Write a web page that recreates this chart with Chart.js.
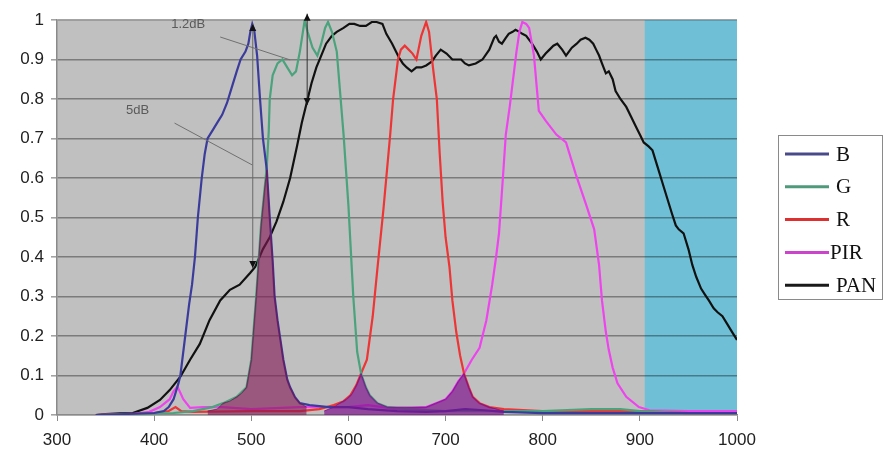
<!DOCTYPE html>
<html><head><meta charset="utf-8">
<script src="https://cdn.jsdelivr.net/npm/chart.js@4.4.1/dist/chart.umd.min.js"></script>
<style>html,body{margin:0;padding:0;background:#fff;}#wrap{position:relative;width:884px;height:454px;}</style>
</head><body><div id="wrap"><canvas id="c" width="884" height="454"></canvas></div>
<script>
// ---- data (wavelength nm, relative response) ----
const seriesNames = ['B','G','R','PIR','PAN'];
const xTickLabels = ['300','400','500','600','700','800','900','1000'];
const yTickLabels = ['0','0.1','0.2','0.3','0.4','0.5','0.6','0.7','0.8','0.9','1'];

const bX = [340,400,410,415,420,425,427,432,436,439,442,445,449,452,455,460,465,470,475,480,485,489,494,497,499,501,503,506,509,512,516,519,522,524,527,530,533,537,540,545,550,560,580,600,620,650,680,700,720,740,760,800,850,900,950,1000];
const bY = [0,0.005,0.01,0.02,0.04,0.08,0.1,0.2,0.28,0.33,0.4,0.5,0.6,0.66,0.7,0.72,0.74,0.76,0.79,0.83,0.87,0.9,0.92,0.94,0.97,0.99,0.975,0.91,0.8,0.7,0.62,0.5,0.39,0.3,0.24,0.19,0.14,0.09,0.07,0.045,0.03,0.025,0.02,0.02,0.015,0.01,0.008,0.01,0.015,0.012,0.008,0.005,0.005,0.005,0.005,0.005];

const gX = [340,420,440,460,471,485,495,500,505,510,514,516,518,519,522,527,532,537,542,546,550,555,558,563,568,572,576,579,583,588,591,595,600,605,609,613,618,622,630,640,660,700,750,800,850,880,900,950,1000];
const gY = [0,0.005,0.01,0.02,0.03,0.046,0.07,0.14,0.3,0.48,0.58,0.63,0.72,0.8,0.86,0.89,0.9,0.88,0.86,0.87,0.92,1.0,0.97,0.93,0.91,0.94,0.98,0.995,0.97,0.92,0.83,0.71,0.53,0.3,0.16,0.105,0.07,0.05,0.03,0.02,0.015,0.01,0.01,0.01,0.015,0.015,0.01,0.005,0.005];

const rX = [340,400,415,422,428,440,500,550,570,585,595,602,608,613,619,625,630,636,643,646,651,654,658,662,666,670,675,680,683,687,691,694,697,700,704,707,711,715,719,724,728,735,745,760,800,850,900,950,1000];
const rY = [0,0.005,0.01,0.02,0.01,0.008,0.01,0.01,0.015,0.025,0.035,0.05,0.075,0.105,0.14,0.25,0.375,0.52,0.71,0.8,0.9,0.925,0.935,0.925,0.915,0.9,0.96,0.995,0.97,0.88,0.8,0.66,0.54,0.45,0.375,0.29,0.21,0.15,0.105,0.07,0.046,0.03,0.02,0.015,0.01,0.01,0.01,0.005,0.005];

const pirX = [340,380,395,406,416,420,424,430,437,450,470,500,550,600,620,650,680,690,700,707,713,719,727,735,742,748,752,755,759,762,766,769,773,776,779,783,786,791,796,803,814,824,834,845,853,858,861,865,868,872,877,886,899,910,950,1000];
const pirY = [0,0.003,0.008,0.02,0.04,0.06,0.072,0.04,0.018,0.02,0.02,0.015,0.02,0.02,0.025,0.015,0.02,0.03,0.04,0.06,0.085,0.105,0.14,0.17,0.24,0.33,0.4,0.46,0.6,0.71,0.78,0.84,0.92,0.97,0.995,0.99,0.98,0.91,0.77,0.745,0.71,0.69,0.61,0.53,0.47,0.38,0.29,0.21,0.165,0.12,0.08,0.046,0.02,0.012,0.01,0.01];

const panX = [340,350,365,378,393,406,416,427,437,447,457,468,478,488,499,504,512,519,526,533,540,547,552,557,562,567,572,577,583,588,595,601,606,612,618,624,629,635,639,645,652,656,660,665,670,675,680,686,690,695,701,707,712,716,720,724,731,738,745,750,752,755,758,762,765,769,772,776,779,783,789,794,798,803,807,811,815,820,824,827,830,835,839,844,848,852,855,858,861,865,868,872,875,880,886,891,896,900,904,909,913,918,923,928,933,937,940,945,950,954,958,963,967,971,976,980,985,990,995,1000];
const panY = [0,0.002,0.004,0.005,0.018,0.038,0.063,0.097,0.14,0.18,0.24,0.29,0.317,0.33,0.36,0.375,0.42,0.45,0.49,0.54,0.6,0.68,0.74,0.79,0.84,0.88,0.91,0.94,0.96,0.97,0.98,0.99,0.99,0.985,0.985,0.995,0.995,0.99,0.965,0.94,0.905,0.89,0.88,0.87,0.88,0.88,0.885,0.895,0.91,0.925,0.915,0.9,0.9,0.9,0.89,0.885,0.89,0.9,0.925,0.955,0.96,0.945,0.94,0.955,0.965,0.97,0.975,0.97,0.965,0.96,0.94,0.92,0.9,0.915,0.925,0.935,0.94,0.925,0.91,0.92,0.93,0.94,0.95,0.955,0.95,0.94,0.925,0.91,0.89,0.865,0.87,0.85,0.82,0.8,0.78,0.755,0.73,0.71,0.69,0.68,0.67,0.63,0.59,0.55,0.51,0.48,0.47,0.46,0.42,0.38,0.35,0.32,0.305,0.29,0.27,0.26,0.25,0.23,0.21,0.19];

// overlap (shaded) areas
const shadeBGX = [455,465,471,478,485,490,495,500,505,510,514,516,519,522,524,527,530,533,537,540,545,550,557];
const shadeBGY = [0.01,0.015,0.03,0.035,0.046,0.055,0.07,0.14,0.3,0.48,0.58,0.62,0.5,0.39,0.3,0.24,0.19,0.14,0.09,0.07,0.045,0.03,0.02];
const shadeRX = [575,585,591,598,604,609,613,618,622,630,640,660,680,690,700,707,713,719,724,728,735,745,760];
const shadeRY = [0.01,0.02,0.03,0.04,0.055,0.08,0.105,0.07,0.05,0.03,0.02,0.02,0.02,0.03,0.04,0.06,0.085,0.105,0.07,0.046,0.03,0.02,0.01];

// near-IR band (highlighted)
const bandRange = [905, 1000];

// annotations
const annTexts = ['1.2dB','5dB'];
const annTextX = [435, 383];
const annTextY = [0.99, 0.772];
const leadX1 = [468, 421], leadY1 = [0.957, 0.739];
const leadX2 = [540, 501], leadY2 = [0.899, 0.633];
const arrowX = [501, 557];
const arrowTop = [0.99, 1.016];
const arrowBottom = [0.372, 0.785];

const lineColors = ['#3b3b9c','#4aa37c','#ee3535','#ee44ee','#111111'];
const legendColors = ['#4a4a8a','#4e9a7a','#dd3030','#cc44cc','#1a1a1a'];

function pts(xs, ys){ return xs.map((x,i)=>({x:x, y:ys[i]})); }

const seriesData = [pts(bX,bY), pts(gX,gY), pts(rX,rY), pts(pirX,pirY), pts(panX,panY)];

const datasets = seriesNames.map((n,i)=>({
  label:n, data:seriesData[i], borderColor:lineColors[i], borderWidth:2.2,
  pointRadius:0, tension:0, fill:false, order:1
}));
datasets.push({label:'overlapBG', data:pts(shadeBGX,shadeBGY), borderColor:'rgba(110,20,80,0.7)', borderWidth:1,
  backgroundColor:'rgba(130,25,85,0.62)', fill:'origin', pointRadius:0, tension:0, order:0});
datasets.push({label:'overlapR', data:pts(shadeRX,shadeRY), borderColor:'rgba(120,20,140,0.8)', borderWidth:1,
  backgroundColor:'rgba(125,15,140,0.68)', fill:'origin', pointRadius:0, tension:0, order:0});

const bgPlugin = {
  id:'bg',
  beforeDraw(chart){
    const {ctx, chartArea:a, scales:{x}} = chart;
    ctx.save();
    ctx.fillStyle = '#ffffff';
    ctx.fillRect(0,0,chart.width,chart.height);
    ctx.fillStyle = '#c0c0c0';
    ctx.fillRect(a.left, a.top, a.right-a.left, a.bottom-a.top);
    const x0 = x.getPixelForValue(bandRange[0]), x1 = x.getPixelForValue(bandRange[1]);
    ctx.fillStyle = '#6fc0d6';
    ctx.fillRect(x0, a.top, x1-x0, a.bottom-a.top);
    ctx.restore();
  }
};

function tri(ctx, x, y, dir){
  ctx.beginPath();
  ctx.moveTo(x, y);
  ctx.lineTo(x-3.5, y - dir*7);
  ctx.lineTo(x+3.5, y - dir*7);
  ctx.closePath();
  ctx.fill();
}

const annPlugin = {
  id:'ann',
  afterDatasetsDraw(chart){
    const {ctx, scales:{x,y}} = chart;
    ctx.save();
    ctx.strokeStyle = '#707070';
    ctx.lineWidth = 1;
    for (let i=0;i<leadX1.length;i++){
      ctx.beginPath();
      ctx.moveTo(x.getPixelForValue(leadX1[i]), y.getPixelForValue(leadY1[i]));
      ctx.lineTo(x.getPixelForValue(leadX2[i]), y.getPixelForValue(leadY2[i]));
      ctx.stroke();
    }
    ctx.fillStyle = '#5a5a5a';
    ctx.font = '13px "Liberation Sans", Arial, sans-serif';
    ctx.textAlign = 'center'; ctx.textBaseline = 'middle';
    for (let i=0;i<annTexts.length;i++){
      ctx.fillText(annTexts[i], x.getPixelForValue(annTextX[i]), y.getPixelForValue(annTextY[i]));
    }
    for (let i=0;i<arrowX.length;i++){
      const px = x.getPixelForValue(arrowX[i]);
      const yt = y.getPixelForValue(arrowTop[i]), yb = y.getPixelForValue(arrowBottom[i]);
      ctx.strokeStyle = i===0 ? '#6a6a6a' : '#333';
      ctx.beginPath(); ctx.moveTo(px+0.5, yt); ctx.lineTo(px+0.5, yb); ctx.stroke();
      ctx.fillStyle = '#111';
      tri(ctx, px+0.5, yt, -1);
      tri(ctx, px+0.5, yb, 1);
    }
    ctx.restore();
  }
};

const legendPlugin = {
  id:'customLegend',
  afterDraw(chart){
    const ctx = chart.ctx;
    ctx.save();
    ctx.fillStyle = '#fff';
    ctx.fillRect(778, 135, 105, 165);
    ctx.strokeStyle = '#8a8a8a'; ctx.lineWidth = 1;
    ctx.strokeRect(778.5, 135.5, 104, 164);
    ctx.font = '21px "Liberation Serif", "Times New Roman", serif';
    ctx.textAlign = 'left'; ctx.textBaseline = 'middle';
    for (let i=0;i<seriesNames.length;i++){
      const yy = 154 + i*32.8;
      ctx.strokeStyle = legendColors[i]; ctx.lineWidth = 3;
      ctx.beginPath(); ctx.moveTo(785, yy); ctx.lineTo(829, yy); ctx.stroke();
      ctx.fillStyle = '#111';
      ctx.fillText(seriesNames[i], i===3 ? 830 : 836, yy+1);
    }
    ctx.restore();
  }
};

Chart.defaults.font.family = '"Liberation Sans", Arial, sans-serif';

new Chart(document.getElementById('c'), {
  type:'line',
  data:{datasets},
  options:{
    responsive:false, animation:false, devicePixelRatio:1,
    layout:{padding:{left:0, top:20, right:147, bottom:0}},
    plugins:{legend:{display:false}, tooltip:{enabled:false}},
    scales:{
      x:{type:'linear', min:300, max:1000,
        afterFit(s){ s.height = 39; },
        ticks:{stepSize:100, padding:9, color:'#222', font:{size:17}, maxRotation:0,
          callback:(v,i)=>xTickLabels[i]},
        grid:{drawOnChartArea:false, drawTicks:true, tickLength:6, color:'#8a8a8a', lineWidth:1},
        border:{display:true, color:'#8a8a8a', width:1.5}
      },
      y:{min:0, max:1,
        afterFit(s){ s.width = 57; },
        ticks:{stepSize:0.1, padding:7, color:'#222', font:{size:17},
          callback:(v,i)=>yTickLabels[i]},
        grid:{color:'rgba(0,0,0,0.36)', lineWidth:1.6, tickLength:6, drawTicks:true},
        border:{display:true, color:'#8a8a8a', width:1.5}
      }
    }
  },
  plugins:[bgPlugin, annPlugin, legendPlugin]
});
</script></body></html>
